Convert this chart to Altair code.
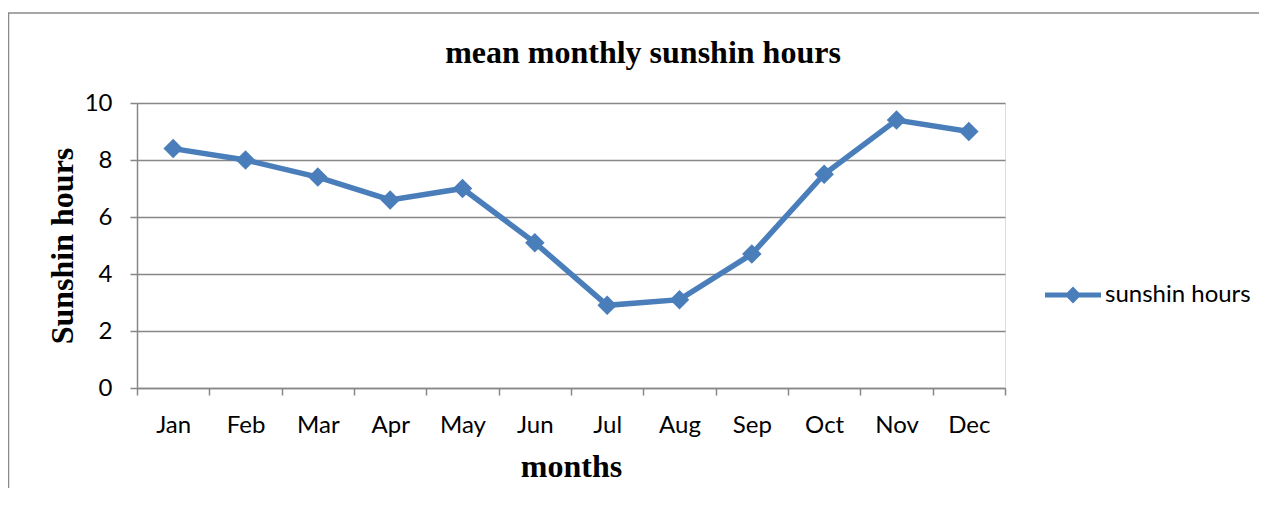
import altair as alt
import pandas as pd

months = ["Jan", "Feb", "Mar", "Apr", "May", "Jun", "Jul", "Aug", "Sep", "Oct", "Nov", "Dec"]
sunshine = [8.4, 8.0, 7.4, 6.6, 7.0, 5.1, 2.9, 3.1, 4.7, 7.5, 9.4, 9.0]
series_name = "sunshin hours"
y_ticks = [0, 2, 4, 6, 8, 10]

df = pd.DataFrame({"month": months, "hours": sunshine, "series": [series_name] * len(months)})

BLUE = "#4A7EBB"
GRID = "#878787"
LABEL_FONT = "Lato"
SERIF = "Liberation Serif"

x_enc = alt.X(
    "month:O",
    sort=months,
    bandPosition=0.5,
    scale=alt.Scale(type="band", paddingInner=0, paddingOuter=0),
    axis=alt.Axis(
        title="months",
        titleFont=SERIF, titleFontSize=32, titleFontWeight="bold", titleColor="#000",
        titleBaseline="alphabetic", titleY=88,
        labelFont=LABEL_FONT, labelFontSize=24, labelColor="#000", labelAngle=0,
        labelBaseline="alphabetic", labelPadding=37,
        tickBand="extent", tickSize=7, tickColor=GRID, tickWidth=1.5,
        domainColor=GRID, domainWidth=1.5, grid=False,
    ),
)
y_enc = alt.Y(
    "hours:Q",
    scale=alt.Scale(domain=[0, 10], nice=False, zero=True),
    axis=alt.Axis(
        title="Sunshin hours", values=y_ticks,
        titleFont=SERIF, titleFontSize=32, titleFontWeight="bold", titleColor="#000",
        titleAngle=-90, titleBaseline="middle", titleX=-75, titleY=142.5, titleAlign="center",
        labelFont=LABEL_FONT, labelFontSize=24, labelColor="#000", labelPadding=18,
        tickSize=7, tickColor=GRID, tickWidth=1.5,
        domainColor=GRID, domainWidth=1.5,
        grid=True, gridColor=GRID, gridWidth=1.5,
    ),
)

frame = alt.Chart(alt.Data(values=[{}])).mark_rect(
    filled=False, stroke="#8a8a8a", strokeWidth=1.5
).encode(
    x=alt.value(-128.5), x2=alt.value(1300), y=alt.value(-90), y2=alt.value(600)
)

line = alt.Chart(df).mark_line(strokeWidth=5.5, color=BLUE).encode(x=x_enc, y=y_enc)

# legend symbol: line with diamond in the middle
legend_path = (
    "M-1,-0.09 L-0.21,-0.09 L0,-0.3 L0.21,-0.09 L1,-0.09 L1,0.09 "
    "L0.21,0.09 L0,0.3 L-0.21,0.09 L-1,0.09 Z"
)

points = alt.Chart(df).mark_point(shape="diamond", filled=True, size=380, opacity=1).encode(
    x=x_enc,
    y=y_enc,
    color=alt.Color(
        "series:N",
        scale=alt.Scale(range=[BLUE]),
        legend=alt.Legend(
            title=None, orient="none", legendX=908, legendY=164,
            symbolType=legend_path, symbolSize=3136, symbolStrokeWidth=0,
            labelFont=LABEL_FONT, labelFontSize=24, labelColor="#000", labelOffset=4,
            padding=0,
        ),
    ),
)

chart = alt.layer(frame, line, points).properties(
    width=868,
    height=285,
    autosize=alt.AutoSizeParams(type="none"),
    padding={"left": 129, "top": 95, "right": 254, "bottom": 100},
    title=alt.TitleParams(
        "mean monthly sunshin hours",
        font=SERIF, fontSize=32, fontWeight="bold", color="#000",
        anchor="middle", dx=72, offset=0, dy=58,
    ),
).configure_view(stroke=None).configure(background="white")

chart.save("out.html", embed_options={"renderer": "svg", "actions": False})
